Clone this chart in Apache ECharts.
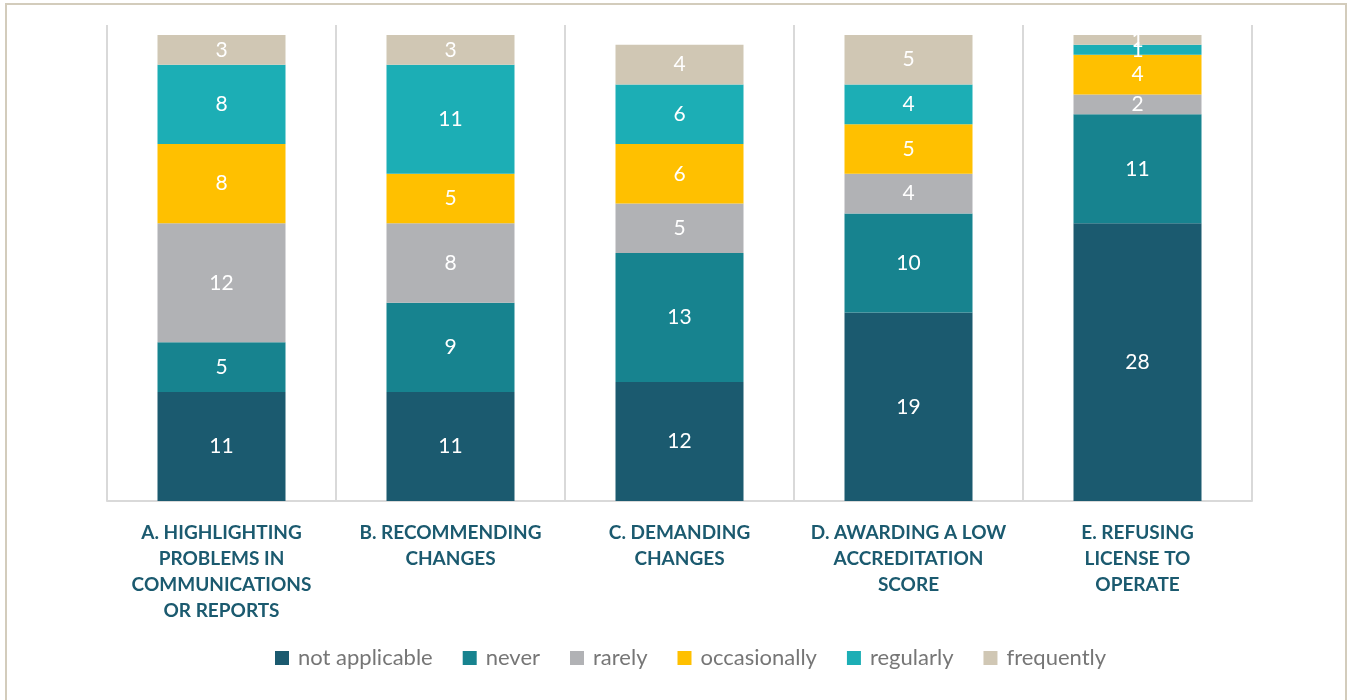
<!DOCTYPE html>
<html>
<head>
<meta charset="utf-8">
<script src="https://cdn.jsdelivr.net/npm/echarts@6/dist/echarts.min.js"></script>
<style>
  html, body { margin: 0; padding: 0; background: #fff; }
  #frame { position: absolute; left: 5px; top: 3px; width: 1342px; height: 720px;
           box-sizing: border-box; border: 2px solid #D3CCBC; pointer-events: none; }
  #chart { position: absolute; left: 0; top: 0; width: 1348px; height: 700px; }
</style>
</head>
<body>
<div id="chart"></div>
<div id="frame"></div>
<script>
// categories (x axis), already broken into lines like the original
const categories = [
  "A. HIGHLIGHTING\nPROBLEMS IN\nCOMMUNICATIONS\nOR REPORTS",
  "B. RECOMMENDING\nCHANGES",
  "C. DEMANDING\nCHANGES",
  "D. AWARDING A LOW\nACCREDITATION\nSCORE",
  "E. REFUSING\nLICENSE TO\nOPERATE"
];

const seriesNames = ["not applicable", "never", "rarely", "occasionally", "regularly", "frequently"];

// counts per category, one array per answer
const notApplicable = [11, 11, 12, 19, 28];
const never         = [5, 9, 13, 10, 11];
const rarely        = [12, 8, 5, 4, 2];
const occasionally  = [8, 5, 6, 5, 4];
const regularly     = [8, 11, 6, 4, 1];
const frequently    = [3, 3, 4, 5, 1];

const colors = ["#1B5A6F", "#17838F", "#B1B2B5", "#FFC000", "#1CAEB5", "#D0C7B4"];

const values = [notApplicable, never, rarely, occasionally, regularly, frequently];

const chart = echarts.init(document.getElementById("chart"));

let series = values.map((v, i) => ({
  name: seriesNames[i],
  type: "bar",
  stack: "total",
  data: v,
  barWidth: 128,
  itemStyle: { color: colors[i] },
  label: {
    show: true,
    position: "inside",
    color: "#fff",
    fontFamily: "Lato",
    fontSize: 21
  }
}));

let option = {
  animation: false,
  color: colors,
  grid: { left: 107, right: 96, top: 25, bottom: 199 },
  legend: {
    left: 270,
    top: 642,
    itemWidth: 14,
    itemHeight: 14,
    itemGap: 30,
    icon: "rect",
    textStyle: { color: "#767676", fontFamily: "Lato", fontSize: 22, padding: [0, 0, 0, 4] },
    data: seriesNames
  },
  xAxis: {
    type: "category",
    data: categories,
    axisLine: { lineStyle: { color: "#D9D9D9", width: 2 } },
    axisTick: { show: false },
    splitLine: { show: true, lineStyle: { color: "#D9D9D9", width: 2 } },
    axisLabel: {
      interval: 0,
      margin: 19,
      color: "#1B5A6F",
      fontFamily: "Lato",
      fontWeight: "bold",
      fontSize: 19,
      lineHeight: 26
    }
  },
  yAxis: {
    type: "value",
    min: 0,
    max: 48,
    show: false,
    splitLine: { show: false }
  },
  series
};

chart.setOption(option);
</script>
</body>
</html>
